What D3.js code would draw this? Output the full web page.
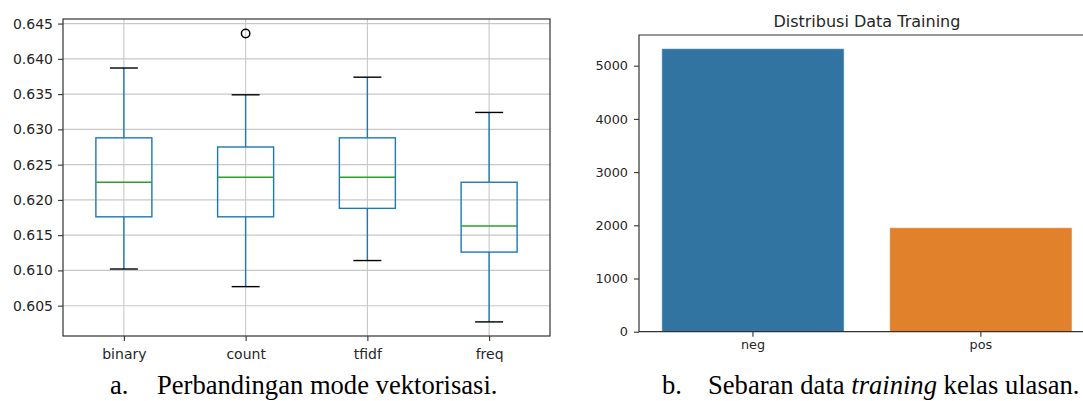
<!DOCTYPE html>
<html>
<head>
<meta charset="utf-8">
<script src="https://cdn.jsdelivr.net/npm/d3@7"></script>
<style>
  html, body { margin: 0; padding: 0; background: #fff; }
  svg { display: block; }
</style>
</head>
<body>
<svg id="chart" width="1083" height="401"></svg>
<script>
// ---- Data: left boxplot (vectorization modes) ----
const modes = ["binary", "count", "tfidf", "freq"];
const whiskerLow  = [0.6102, 0.6077, 0.6114, 0.6027];
const q1          = [0.6176, 0.6176, 0.6188, 0.6126];
const medians     = [0.6225, 0.6232, 0.6232, 0.6163];
const q3          = [0.6288, 0.6275, 0.6288, 0.6225];
const whiskerHigh = [0.6387, 0.6349, 0.6374, 0.6324];
const outliers    = [[], [0.6436], [], []];
const boxTicks    = [0.605, 0.610, 0.615, 0.620, 0.625, 0.630, 0.635, 0.640, 0.645];

// ---- Data: right bar chart (training distribution) ----
const classes = ["neg", "pos"];
const counts  = [5320, 1955];
const barColors = ["#3274a1", "#e1812c"];
const barTicks = [0, 1000, 2000, 3000, 4000, 5000];
const barTitle = "Distribusi Data Training";

const svg = d3.select("#chart");
const axisColor = "#333";
const textColor = "#262626";

// ================= LEFT: boxplot =================
const L = { left: 63, right: 550, top: 19, bottom: 336 };
const xL = d3.scalePoint().domain(modes).range([L.left, L.right]).padding(0.5);
const yL = d3.scaleLinear().domain([0.6007, 0.64565]).range([L.bottom, L.top]);
const gL = svg.append("g");

// grid
gL.selectAll("line.hgrid").data(boxTicks).join("line")
  .attr("x1", L.left).attr("x2", L.right)
  .attr("y1", d => yL(d)).attr("y2", d => yL(d))
  .attr("stroke", "#c8c8c8").attr("stroke-width", 1.1);
gL.selectAll("line.vgrid").data(modes).join("line")
  .attr("x1", d => xL(d)).attr("x2", d => xL(d))
  .attr("y1", L.top).attr("y2", L.bottom)
  .attr("stroke", "#c8c8c8").attr("stroke-width", 1.1);

// axes
const axLeftL = d3.axisLeft(yL).tickValues(boxTicks).tickFormat(d3.format(".3f")).tickSize(5).tickPadding(5);
const gAxYL = gL.append("g").attr("transform", `translate(${L.left},0)`).call(axLeftL);
const axBotL = d3.axisBottom(xL).tickSize(5).tickPadding(6);
const gAxXL = gL.append("g").attr("transform", `translate(0,${L.bottom})`).call(axBotL);
[gAxYL, gAxXL].forEach(g => {
  g.select(".domain").remove();
  g.selectAll(".tick line").attr("stroke", axisColor).attr("stroke-width", 1.1);
  g.selectAll(".tick text").attr("fill", textColor)
    .style("font-family", "DejaVu Sans, sans-serif").style("font-size", "14px");
});
gAxXL.selectAll(".tick text").attr("dy", null).attr("y", 23);

// boxes
const bw = 56, cw = 28;
modes.forEach((m, i) => {
  const cx = xL(m);
  const g = gL.append("g");
  // whiskers
  g.append("line").attr("x1", cx).attr("x2", cx).attr("y1", yL(q3[i])).attr("y2", yL(whiskerHigh[i]))
    .attr("stroke", "#1f77b4").attr("stroke-width", 1.4);
  g.append("line").attr("x1", cx).attr("x2", cx).attr("y1", yL(q1[i])).attr("y2", yL(whiskerLow[i]))
    .attr("stroke", "#1f77b4").attr("stroke-width", 1.4);
  // caps
  [whiskerHigh[i], whiskerLow[i]].forEach(v => {
    g.append("line").attr("x1", cx - cw / 2).attr("x2", cx + cw / 2).attr("y1", yL(v)).attr("y2", yL(v))
      .attr("stroke", "#000").attr("stroke-width", 1.4);
  });
  // box
  g.append("rect").attr("x", cx - bw / 2).attr("width", bw)
    .attr("y", yL(q3[i])).attr("height", yL(q1[i]) - yL(q3[i]))
    .attr("fill", "none").attr("stroke", "#1f77b4").attr("stroke-width", 1.4);
  // median
  g.append("line").attr("x1", cx - bw / 2).attr("x2", cx + bw / 2).attr("y1", yL(medians[i])).attr("y2", yL(medians[i]))
    .attr("stroke", "#2ca02c").attr("stroke-width", 1.4);
  // outliers
  outliers[i].forEach(v => {
    g.append("circle").attr("cx", cx).attr("cy", yL(v)).attr("r", 4.2)
      .attr("fill", "none").attr("stroke", "#000").attr("stroke-width", 1.5);
  });
});

// frame
gL.append("rect").attr("x", L.left).attr("y", L.top)
  .attr("width", L.right - L.left).attr("height", L.bottom - L.top)
  .attr("fill", "none").attr("stroke", axisColor).attr("stroke-width", 1.2);

// ================= RIGHT: bar chart =================
const R = { left: 639, right: 1094.8, top: 35, bottom: 331.7 };
const xR = d3.scaleBand().domain(classes).range([R.left, R.right]).paddingInner(0.2).paddingOuter(0.1);
const yR = d3.scaleLinear().domain([0, 5577]).range([R.bottom, R.top]);
const gR = svg.append("g");

gR.selectAll("rect.bar").data(classes).join("rect")
  .attr("x", d => xR(d)).attr("width", xR.bandwidth())
  .attr("y", (d, i) => yR(counts[i])).attr("height", (d, i) => yR(0) - yR(counts[i]))
  .attr("fill", (d, i) => barColors[i])
  .attr("stroke", "#ffffff").attr("stroke-opacity", 0.5).attr("stroke-width", 1);

const axLeftR = d3.axisLeft(yR).tickValues(barTicks).tickFormat(d3.format("d")).tickSize(5).tickPadding(6);
const gAxYR = gR.append("g").attr("transform", `translate(${R.left},0)`).call(axLeftR);
const axBotR = d3.axisBottom(xR).tickSize(5).tickPadding(6);
const gAxXR = gR.append("g").attr("transform", `translate(0,${R.bottom})`).call(axBotR);
[gAxYR, gAxXR].forEach(g => {
  g.select(".domain").remove();
  g.selectAll(".tick line").attr("stroke", axisColor).attr("stroke-width", 1.1);
  g.selectAll(".tick text").attr("fill", textColor)
    .style("font-family", "DejaVu Sans, sans-serif").style("font-size", "12.8px");
});
gAxXR.selectAll(".tick text").attr("dy", null).attr("y", 17);

// spines (left, bottom, top)
gR.append("path")
  .attr("d", `M${R.right},${R.top}H${R.left}V${R.bottom}H${R.right}`)
  .attr("fill", "none").attr("stroke", axisColor).attr("stroke-width", 1.2);

gR.append("text").attr("x", (R.left + R.right) / 2).attr("y", 27.3)
  .attr("text-anchor", "middle").attr("fill", textColor)
  .style("font-family", "DejaVu Sans, sans-serif").style("font-size", "16px")
  .text(barTitle);

// ================= Captions =================
const cap = svg.append("g").style("font-family", "Liberation Serif, Times New Roman, serif")
  .style("font-size", "26.6px").attr("fill", "#000");
cap.append("text").attr("x", 110).attr("y", 394).text("a.");
cap.append("text").attr("x", 157).attr("y", 394).text("Perbandingan mode vektorisasi.");
cap.append("text").attr("x", 662).attr("y", 394).text("b.");
const tb = cap.append("text").attr("x", 708).attr("y", 394);
tb.append("tspan").text("Sebaran data ");
tb.append("tspan").style("font-style", "italic").text("training");
tb.append("tspan").text(" kelas ulasan.");
</script>
</body>
</html>
